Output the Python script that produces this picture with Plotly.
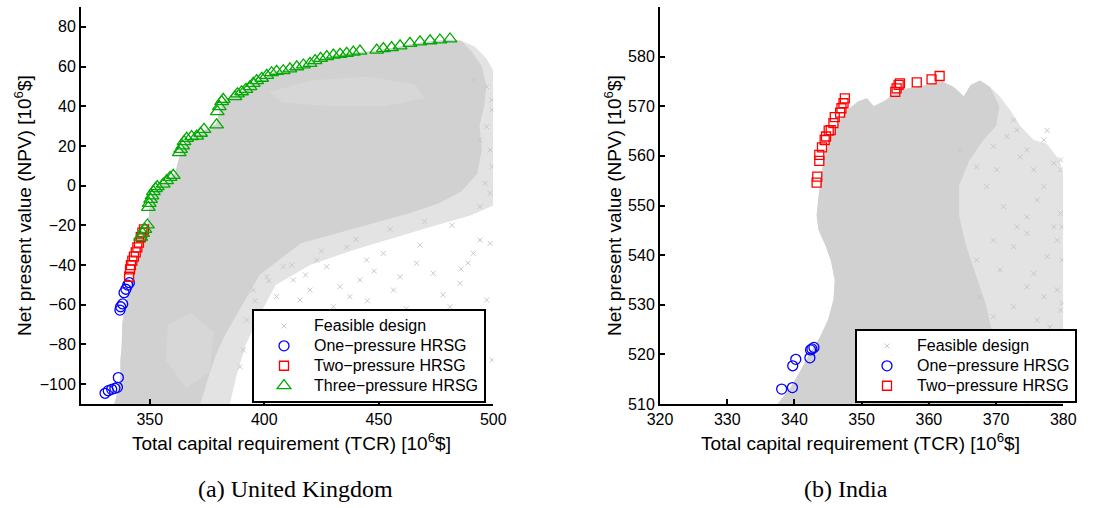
import plotly.graph_objects as go

# ---------------- United Kingdom (a) ----------------
uk_cloud_outer_x = [334.5, 336.0, 337.2, 337.2, 337.8, 338.0, 339.0, 340.5, 342.0, 343.6, 345.5, 347.5, 349.3, 350.0,
                    351.5, 354.0, 358.0, 361.0, 362.5, 363.5, 366.0, 370.5, 374.0, 379.0, 380.5, 382.5, 388.0, 392.0,
                    396.0, 401.0, 405.0, 411.0, 418.0, 424.0, 430.0, 440.0, 449.0, 456.0, 465.0, 473.0, 481.0, 486.0,
                    492.0, 497.0, 500.0, 500.0, 490.0, 475.0, 460.0, 440.0, 420.0, 405.0, 398.0, 392.0, 388.0, 385.0]
uk_cloud_outer_y = [-110, -104, -97, -88, -80, -70, -62, -55, -48, -40, -32, -25, -18, -11,
                    -3, 0, 3, 6, 12, 17, 22, 25, 28, 31, 38, 43, 45.5, 48.5,
                    52, 55, 57.5, 58.5, 60.5, 63.5, 65.5, 67, 68, 69.5, 71.5, 72.8, 73.5, 73.0,
                    70, 64, 58, -10, -15, -20, -25, -32, -40, -50, -65, -80, -95, -110]

uk_cloud_core_x = [334.5, 336.0, 337.2, 337.2, 337.8, 338.0, 339.0, 340.5, 342.0, 343.6, 345.5, 347.5, 349.3, 350.0,
                   351.5, 354.0, 358.0, 361.0, 362.5, 363.5, 366.0, 370.5, 374.0, 379.0, 380.5, 382.5, 388.0, 392.0,
                   396.0, 401.0, 405.0, 411.0, 418.0, 424.0, 430.0, 440.0, 449.0, 456.0, 465.0, 473.0, 481.0, 486.0,
                   491.0, 495.0, 497.0, 496.0, 494.0, 495.0, 493.0, 486.0, 476.0, 463.0, 447.0,
                   431.0, 416.0, 407.0, 398.0, 393.0, 388.0, 383.0, 379.0, 376.0, 374.0, 372.0]
uk_cloud_core_y = [-110, -104, -97, -88, -80, -70, -62, -55, -48, -40, -32, -25, -18, -11,
                   -3, 0, 3, 6, 12, 17, 22, 25, 28, 31, 38, 43, 45.5, 48.5,
                   52, 55, 57.5, 58.5, 60.5, 63.5, 65.5, 67, 68, 69.5, 71.5, 72.8, 73.5, 73.0,
                   67, 60, 50, 40, 30, 18, 6, -3, -9, -14, -19,
                   -24, -29, -37, -45, -55, -65, -75, -85, -95, -103, -110]

uk_light_patch1_x = [402, 420, 445, 466, 470, 452, 428, 408]
uk_light_patch1_y = [47, 53, 55, 51, 44, 40, 40, 42]
uk_light_patch2_x = [358, 368, 378, 376, 366, 357]
uk_light_patch2_y = [-70, -64, -74, -94, -102, -88]

uk_feasible_x = [494.2, 498.6, 491.3, 485.5, 497.1, 499.5, 473.8, 466.5, 459.3, 456.4, 452.0, 444.7, 441.8, 437.4,
                 433.1, 430.2, 427.3, 422.9, 420.0, 415.6, 412.7, 409.8, 408.3, 405.4, 401.1, 399.6, 398.1, 395.2,
                 392.3, 390.9, 389.4, 481.1, 401.1, 415.6, 430.2, 444.7, 459.3, 473.8, 488.4, 494.2, 498.6, 496.4,
                 499.5, 498.6, 494.2, 497.1, 499.3, 497.1, 491.3, 499.5, 470.0, 455.0, 440.0, 425.0, 412.0, 402.0,
                 396.0, 486.0, 478.0, 468.0, 448.0, 436.0, 489.0, 482.0, 462.0, 445.0, 428.0, 418.0]
uk_feasible_y = [-27.4, -29.1, -34.1, -49.2, -57.6, -87.8, -44.2, -39.1, -45.9, -52.6, -34.1, -37.5, -47.5, -55.9,
                 -50.9, -61.0, -40.8, -37.5, -52.6, -57.6, -47.5, -66.0, -40.8, -55.9, -45.9, -64.3, -76.1, -52.6,
                 -67.7, -82.8, -91.2, -61.0, -108.0, -107.2, -108.0, -107.2, -108.0, -107.2, -108.0, -10.6, -3.9, 1.2,
                 9.6, 18.0, 23.0, 29.7, 43.1, 49.9, 53.2, 38.1, -18.0, -22.0, -27.0, -33.0, -40.0, -48.0,
                 -58.0, -42.0, -55.0, -30.0, -43.0, -31.0, -39.0, -20.0, -62.0, -58.0, -70.0, -45.0]

uk_one_x = [330.5, 331.9, 333.4, 334.8, 335.9, 336.3, 337.0, 337.3, 338.2, 338.8, 339.6, 340.4, 341.1]
uk_one_y = [-104.6, -103.3, -102.6, -102.1, -101.6, -96.7, -62.7, -61.0, -59.6, -53.9, -52.2, -50.1, -48.9]

uk_two_x = [341.0, 341.4, 341.8, 342.4, 343.1, 343.9, 344.6, 345.3, 346.1, 346.8, 347.5]
uk_two_y = [-45.9, -42.2, -40.0, -37.8, -35.8, -33.6, -31.1, -28.7, -26.0, -23.7, -22.0]

uk_three_x = [346.05, 346.9, 347.9, 349.0, 349.4, 349.8, 350.4, 351.0, 351.6, 352.5, 353.3, 355.9, 357.4, 358.9,
              360.3, 362.9, 363.5, 364.4, 365.0, 366.1, 368.3, 370.5, 372.2, 373.7, 379.2, 379.5, 380.4, 381.4,
              382.1, 387.2, 388.3, 390.1, 392.0, 393.8, 395.2, 396.7, 398.9, 401.1, 403.2, 405.4, 408.3, 411.2,
              414.2, 417.1, 420.0, 422.2, 424.6, 427.3, 430.2, 433.1, 436.0, 438.9, 441.8, 449.1, 452.0, 455.6,
              459.3, 463.6, 468.0, 472.4, 476.7, 481.1]
uk_three_y = [-26.0, -24.0, -22.0, -19.8, -10.9, -8.9, -6.9, -5.2, -3.0, -1.5, -0.5, 0.8, 2.5, 4.2,
              5.2, 16.6, 18.3, 20.0, 22.2, 23.8, 24.7, 25.0, 26.4, 28.4, 30.6, 37.3, 39.8, 42.3,
              43.5, 44.8, 46.2, 47.3, 48.5, 49.9, 51.5, 52.9, 54.1, 55.6, 56.9, 57.6, 57.9, 58.8,
              59.9, 60.8, 61.6, 63.0, 64.1, 65.0, 65.8, 66.2, 66.7, 67.3, 67.8, 68.3, 69.0, 69.5,
              70.4, 71.7, 72.4, 73.0, 73.4, 73.9]

# ---------------- India (b) ----------------
in_cloud_outer_x = [337.5, 339.5, 340.8, 342.2, 343.8, 345.0, 345.8, 346.0, 345.4, 344.6, 343.6, 343.3, 343.6, 344.0,
                    344.4, 345.2, 346.2, 347.8, 349.5, 350.8, 351.8, 353.7, 354.7, 356.7, 359.7, 362.0, 363.7, 365.2,
                    366.2, 367.6, 369.1, 370.6, 372.1, 373.6, 375.6, 377.5, 379.5, 380.0, 380.0]
in_cloud_outer_y = [510, 513.5, 516.5, 520, 523.5, 527, 531, 535, 539, 542, 545, 548, 552, 556,
                    559.5, 563, 566, 569.2, 571, 571.6, 570, 571.3, 572.6, 573.6, 574.3, 575.0, 573.9, 572.0,
                    574.3, 575.2, 573.9, 571.9, 569.2, 566, 563.2, 562.5, 559, 556, 510]

in_cloud_core_x = [337.5, 339.5, 340.8, 342.2, 343.8, 345.0, 345.8, 346.0, 345.4, 344.6, 343.6, 343.3, 343.6, 344.0,
                   344.4, 345.2, 346.2, 347.8, 349.5, 350.8, 351.8, 353.7, 354.7, 356.7, 359.7, 362.0, 363.7, 365.2,
                   366.2, 367.6, 369.1, 370.5, 370.0, 368.0, 366.0, 364.5, 364.5, 365.5, 367.0, 368.5, 369.5, 370.0,
                   370.0]
in_cloud_core_y = [510, 513.5, 516.5, 520, 523.5, 527, 531, 535, 539, 542, 545, 548, 552, 556,
                   559.5, 563, 566, 569.2, 571, 571.6, 570, 571.3, 572.6, 573.6, 574.3, 575.0, 573.9, 572.0,
                   574.3, 575.2, 573.9, 570, 566, 563, 559, 554, 548, 542, 536, 530, 524, 517,
                   510]

in_feasible_x = [377.6, 377.1, 378.6, 379.6, 374.6, 373.6, 375.6, 379.6, 372.6, 373.1, 371.6, 369.6, 377.1, 379.6,
                 378.6, 376.1, 374.6, 373.1, 371.1, 368.6, 367.1, 364.7, 370.1, 379.1, 379.8, 377.6, 375.6, 379.1,
                 377.1, 374.6, 372.6, 379.6, 376.1, 369.6, 367.6, 370.6, 372.6, 374.6, 369.6, 367.1, 379.8, 379.9,
                 351.8, 355.7, 359.7, 364.7, 369.6, 374.6, 378.6, 378.0, 376.5, 373.0]
in_feasible_y = [565.1, 563.2, 558.5, 559.2, 561.2, 559.8, 557.2, 557.2, 567.2, 565.2, 563.9, 561.9, 553.8, 548.4,
                 545.7, 551.1, 547.7, 545.7, 549.8, 553.8, 557.8, 561.2, 557.2, 543.0, 539.0, 539.7, 536.3, 533.0,
                 531.6, 533.6, 529.6, 528.9, 526.9, 527.6, 531.6, 537.0, 541.7, 544.4, 543.0, 539.0, 545.7, 530.3,
                 510.3, 510.3, 510.3, 510.3, 510.3, 510.3, 510.3, 525.5, 520.0, 515.0]

in_one_x = [338.1, 339.7, 339.75, 340.2, 342.3, 342.6, 342.9, 342.4]
in_one_y = [513.0, 513.3, 517.7, 519.0, 519.3, 521.1, 521.4, 520.9]

in_two_x = [343.3, 343.4, 343.7, 343.7, 344.1, 344.5, 344.7, 345.1, 345.4, 345.8, 346.0, 346.8, 347.0, 347.3,
            347.5, 355.0, 355.2, 355.5, 355.7, 358.2, 360.4, 361.6]
in_two_y = [554.6, 555.8, 559.0, 560.2, 561.7, 563.2, 563.9, 565.1, 565.2, 566.6, 567.8, 568.7, 569.6, 570.6,
            571.6, 572.9, 573.6, 574.3, 574.6, 574.8, 575.4, 576.1]

uk_xticks = [350, 400, 450, 500]
uk_yticks = [-100, -80, -60, -40, -20, 0, 20, 40, 60, 80]
in_xticks = [320, 330, 340, 350, 360, 370, 380]
in_yticks = [510, 520, 530, 540, 550, 560, 570, 580, 590]

FONT = "Liberation Sans, Arial, sans-serif"
GRAY = "#c8c8c8"


def lg(name):
    return '<span style="font-size:16px">' + name + '</span>'


fig = go.Figure()


def add_fill(xs, ys, color, xa, ya):
    fig.add_trace(go.Scatter(x=xs, y=ys, mode="lines", fill="toself", fillcolor=color,
                             line=dict(width=0, color=color), showlegend=False, hoverinfo="skip",
                             xaxis=xa, yaxis=ya))


# UK cloud
add_fill(uk_cloud_outer_x, uk_cloud_outer_y, "#e3e3e3", "x", "y")
add_fill(uk_cloud_core_x, uk_cloud_core_y, "#d1d1d1", "x", "y")
add_fill(uk_light_patch1_x, uk_light_patch1_y, "#d7d7d7", "x", "y")
add_fill(uk_light_patch2_x, uk_light_patch2_y, "#d7d7d7", "x", "y")

fig.add_trace(go.Scatter(x=uk_feasible_x, y=uk_feasible_y, mode="markers", name=lg("Feasible design"),
                         marker=dict(symbol="x-thin", size=5, line=dict(width=1, color=GRAY), color=GRAY),
                         xaxis="x", yaxis="y", legend="legend"))
fig.add_trace(go.Scatter(x=uk_one_x, y=uk_one_y, mode="markers", name=lg("One\u2212pressure HRSG"),
                         marker=dict(symbol="circle-open", size=10, color="#0000ff", line=dict(width=1.3)),
                         xaxis="x", yaxis="y", legend="legend"))
fig.add_trace(go.Scatter(x=uk_two_x, y=uk_two_y, mode="markers", name=lg("Two\u2212pressure HRSG"),
                         marker=dict(symbol="square-open", size=9, color="#ff0000", line=dict(width=1.3)),
                         xaxis="x", yaxis="y", legend="legend"))
fig.add_trace(go.Scatter(x=uk_three_x, y=uk_three_y, mode="markers", name=lg("Three\u2212pressure HRSG"),
                         marker=dict(symbol="triangle-up-open", size=12, color="#00aa00", line=dict(width=1.3)),
                         xaxis="x", yaxis="y", legend="legend"))

# India cloud
add_fill(in_cloud_outer_x, in_cloud_outer_y, "#e3e3e3", "x2", "y2")
add_fill(in_cloud_core_x, in_cloud_core_y, "#d1d1d1", "x2", "y2")

fig.add_trace(go.Scatter(x=in_feasible_x, y=in_feasible_y, mode="markers", name=lg("Feasible design"),
                         marker=dict(symbol="x-thin", size=5, line=dict(width=1, color=GRAY), color=GRAY),
                         xaxis="x2", yaxis="y2", legend="legend2"))
fig.add_trace(go.Scatter(x=in_one_x, y=in_one_y, mode="markers", name=lg("One\u2212pressure HRSG"),
                         marker=dict(symbol="circle-open", size=10, color="#0000ff", line=dict(width=1.3)),
                         xaxis="x2", yaxis="y2", legend="legend2"))
fig.add_trace(go.Scatter(x=in_two_x, y=in_two_y, mode="markers", name=lg("Two\u2212pressure HRSG"),
                         marker=dict(symbol="square-open", size=9, color="#ff0000", line=dict(width=1.3)),
                         xaxis="x2", yaxis="y2", legend="legend2"))

W, H = 1104, 508
ydom = [1 - 404 / H, 1 - 7 / H]

axis_common = dict(showline=True, linecolor="black", linewidth=2, ticks="inside", ticklen=5, tickwidth=1.5,
                   tickcolor="black", showgrid=False, zeroline=False, mirror=False, automargin=False,
                   tickfont=dict(family=FONT, size=16, color="black"))

fig.update_layout(
    width=W, height=H, margin=dict(l=0, r=0, t=0, b=0, autoexpand=False),
    paper_bgcolor="white", plot_bgcolor="white",
    font=dict(family=FONT, size=16, color="black"),
    xaxis=dict(domain=[81 / W, 493.3 / W], range=[320, 500], tickvals=uk_xticks, anchor="y", **axis_common),
    yaxis=dict(domain=ydom, range=[-110, 90], tickvals=uk_yticks, anchor="x", **axis_common),
    xaxis2=dict(domain=[660 / W, 1063.3 / W], range=[320, 380], tickvals=in_xticks, anchor="y2", **axis_common),
    yaxis2=dict(domain=ydom, range=[510, 590], tickvals=in_yticks, anchor="x2", **axis_common),
    legend=dict(x=252 / W, y=1 - 309 / H, xanchor="left", yanchor="top", bgcolor="white",
                bordercolor="black", borderwidth=2, itemwidth=50,
                font=dict(family=FONT, size=13, color="black"), tracegroupgap=0),
    legend2=dict(x=855 / W, y=1 - 329 / H, xanchor="left", yanchor="top", bgcolor="white",
                 bordercolor="black", borderwidth=2, itemwidth=50,
                 font=dict(family=FONT, size=13, color="black"), tracegroupgap=0),
)

ann = []
xtitle = "Total capital requirement (TCR) [10<sup>6</sup>$]"
ytitle = "Net present value (NPV) [10<sup>6</sup>$]"
for cx in (291.5, 860.5):
    ann.append(dict(text=xtitle, x=cx / W, y=1 - 442 / H, xref="paper", yref="paper", showarrow=False,
                    xanchor="center", yanchor="middle", font=dict(family=FONT, size=19, color="black")))
for cx in (23, 613):
    ann.append(dict(text=ytitle, x=cx / W, y=1 - 206 / H, xref="paper", yref="paper", showarrow=False,
                    textangle=-90, xanchor="center", yanchor="middle",
                    font=dict(family=FONT, size=19, color="black")))
for cx, t in ((295, "(a) United Kingdom"), (846, "(b) India")):
    ann.append(dict(text=t, x=cx / W, y=1 - 489 / H, xref="paper", yref="paper", showarrow=False,
                    xanchor="center", yanchor="middle",
                    font=dict(family="Liberation Serif, Times New Roman, serif", size=24, color="black")))
fig.update_layout(annotations=ann)

fig.write_html("out.html")
